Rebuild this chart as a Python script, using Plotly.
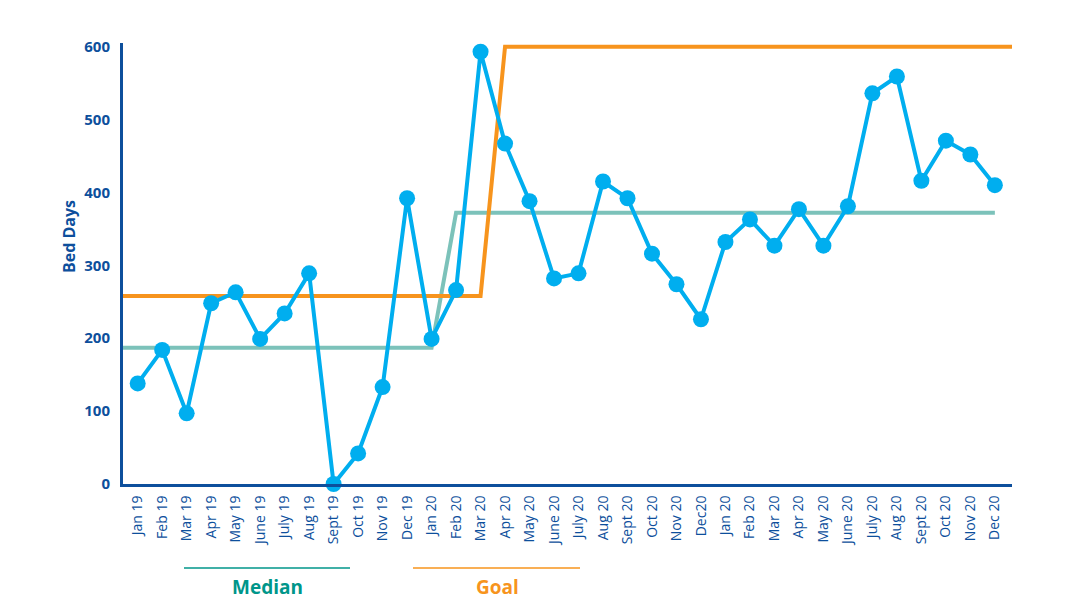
import plotly.graph_objects as go

months = ["Jan 19", "Feb 19", "Mar 19", "Apr 19", "May 19", "June 19", "July 19", "Aug 19",
          "Sept 19", "Oct 19", "Nov 19", "Dec 19", "Jan 20", "Feb 20", "Mar 20", "Apr 20",
          "May 20", "June 20", "July 20", "Aug 20", "Sept 20", "Oct 20", "Nov 20", "Dec20",
          "Jan 20", "Feb 20", "Mar 20", "Apr 20", "May 20", "June 20", "July 20", "Aug 20",
          "Sept 20", "Oct 20", "Nov 20", "Dec 20"]
bed_days = [138, 184, 97, 248, 263, 199, 234, 289, 0, 42, 133, 392, 199, 266, 593, 467,
            388, 282, 289, 415, 392, 316, 274, 226, 332, 363, 327, 377, 327, 381, 536, 559,
            416, 471, 452, 410]
median = [187] * 13 + [372] * 23
goal = [258] * 15 + [600] * 21
y_ticks = [0, 100, 200, 300, 400, 500, 600]

x = list(range(len(months)))
X_LEFT, X_RIGHT = -0.6, 35.7

AXIS = "#0D4F9C"
BLUE = "#00AEEF"
ORANGE = "#F7941D"
TEAL = "#7CC2BA"
TEAL_TXT = "#00968A"

fig = go.Figure()
fig.add_trace(go.Scatter(x=[X_LEFT] + x, y=[median[0]] + median, mode="lines",
                         line=dict(color=TEAL, width=4), hoverinfo="skip", showlegend=False))
fig.add_trace(go.Scatter(x=[X_LEFT] + x + [X_RIGHT], y=[goal[0]] + goal + [goal[-1]], mode="lines",
                         line=dict(color=ORANGE, width=4), hoverinfo="skip", showlegend=False,
                         cliponaxis=False))
fig.add_trace(go.Scatter(x=x, y=bed_days, mode="lines+markers",
                         line=dict(color=BLUE, width=4),
                         marker=dict(color=BLUE, size=16),
                         cliponaxis=False, showlegend=False))

# legend-like keys
fig.add_shape(type="line", xref="paper", yref="paper", x0=(184 - 123) / 889, x1=(350 - 123) / 889,
              y0=(484 - 568) / 441, y1=(484 - 568) / 441, line=dict(color=TEAL_TXT, width=1.5))
fig.add_shape(type="line", xref="paper", yref="paper", x0=(413 - 123) / 889, x1=(580 - 123) / 889,
              y0=(484 - 568) / 441, y1=(484 - 568) / 441, line=dict(color=ORANGE, width=1.5))
fig.add_annotation(text="<b>Median</b>", xref="paper", yref="paper", x=(267 - 123) / 889,
                   y=(484 - 587) / 441, showarrow=False, font=dict(color=TEAL_TXT, size=19),
                   xanchor="center", yanchor="middle")
fig.add_annotation(text="<b>Goal</b>", xref="paper", yref="paper", x=(497 - 123) / 889,
                   y=(484 - 587) / 441, showarrow=False, font=dict(color=ORANGE, size=19),
                   xanchor="center", yanchor="middle")
fig.add_annotation(text="<b>Bed Days</b>", xref="paper", yref="paper", x=(69 - 123) / 889,
                   y=(484 - 237) / 441, showarrow=False, textangle=-90,
                   font=dict(color=AXIS, size=16), xanchor="center", yanchor="middle")

fig.update_layout(
    width=1074, height=600,
    margin=dict(l=123, r=62, t=43, b=116),
    paper_bgcolor="white", plot_bgcolor="white",
    font=dict(family="Open Sans", color=AXIS),
    xaxis=dict(range=[X_LEFT, X_RIGHT], tickmode="array", tickvals=x, ticktext=months,
               tickangle=-90, tickfont=dict(size=14, color=AXIS), showgrid=False,
               zeroline=False, showline=True, linecolor=AXIS, linewidth=3, ticks="outside",
               ticklen=3, tickcolor="rgba(0,0,0,0)"),
    yaxis=dict(range=[0, 605], tickmode="array", tickvals=y_ticks,
               ticktext=["<b>%d</b>" % v for v in y_ticks],
               tickfont=dict(size=15, color=AXIS), showgrid=False, zeroline=False,
               showline=True, linecolor=AXIS, linewidth=3, ticks="outside", ticklen=7,
               tickcolor="rgba(0,0,0,0)"),
)

fig.write_html("out.html")
